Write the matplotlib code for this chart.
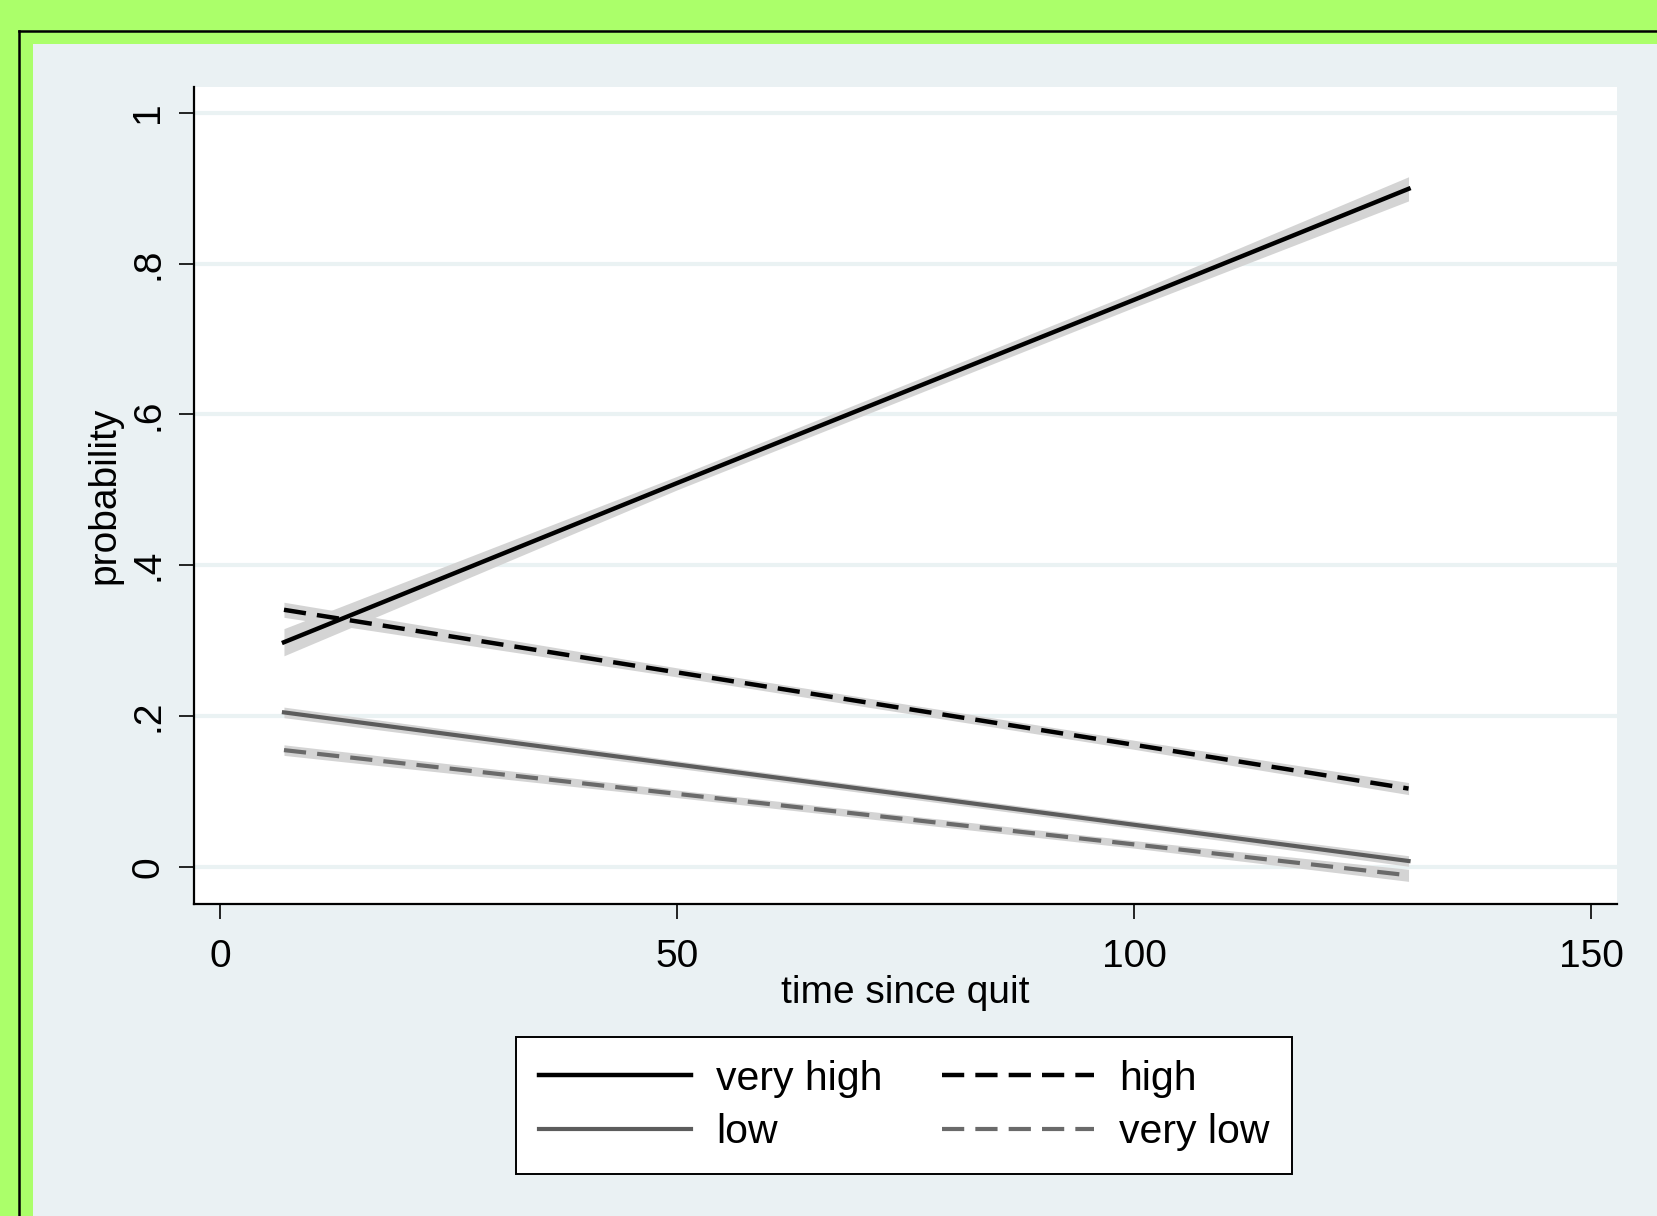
import matplotlib
matplotlib.use("Agg")
import matplotlib.pyplot as plt
from matplotlib.patches import Rectangle
from matplotlib.lines import Line2D

plt.rcParams['font.family'] = ['Liberation Sans', 'DejaVu Sans']

# predicted probabilities by time since quit
time_since_quit = [7, 50, 100, 130]
very_high = [0.298, 0.509, 0.752, 0.899]
high = [0.341, 0.258, 0.162, 0.104]
low = [0.205, 0.136, 0.056, 0.008]
very_low = [0.155, 0.097, 0.030, -0.011]

# half widths of the confidence bands
very_high_ci = [0.018, 0.009, 0.010, 0.016]
high_ci = [0.010, 0.006, 0.006, 0.008]
low_ci = [0.007, 0.005, 0.005, 0.007]
very_low_ci = [0.007, 0.005, 0.005, 0.008]

labels = ["very high", "high", "low", "very low"]
x_ticks = [0, 50, 100, 150]
y_ticks = [0, 0.2, 0.4, 0.6, 0.8, 1.0]
y_tick_labels = ["0", ".2", ".4", ".6", ".8", "1"]

W, H = 1657, 1216
fig = plt.figure(figsize=(W / 100, H / 100), dpi=100, facecolor="#abff6a")

# outer frame: light panel and black border
fig.patches.append(Rectangle((33 / W, 0), 1, 1 - 44 / H, transform=fig.transFigure,
                             facecolor="#eaf1f3", edgecolor="none", zorder=-2))
fig.lines.append(Line2D([19 / W, 1], [1 - 30.5 / H, 1 - 30.5 / H], transform=fig.transFigure,
                        color="black", lw=1.8, zorder=-1))
fig.lines.append(Line2D([19 / W, 19 / W], [0, 1 - 30.5 / H], transform=fig.transFigure,
                        color="black", lw=1.8, zorder=-1))

ax = fig.add_axes([194 / W, 1 - 904 / H, 1423 / W, 817 / H])
ax.set_zorder(1)
ax.set_facecolor("white")
ax.set_xlim(-2.84, 152.8)
ax.set_ylim(-0.049, 1.034)

series = [
    (very_high, very_high_ci, "black", "-", 3.2),
    (high, high_ci, "black", "--", 3.2),
    (low, low_ci, "#5c5c5c", "-", 3.0),
    (very_low, very_low_ci, "#6a6a6a", "--", 3.0),
]

for vals, ci, col, ls, lw in series:
    lo = [v - c for v, c in zip(vals, ci)]
    hi = [v + c for v, c in zip(vals, ci)]
    ax.fill_between(time_since_quit, lo, hi, color="#d4d4d4", lw=0, zorder=2)

handles = []
for (vals, ci, col, ls, lw), lab in zip(series, labels):
    line, = ax.plot(time_since_quit, vals, color=col, lw=lw, ls=ls, label=lab, zorder=3)
    if ls == "--":
        # dash and gap in points, independent of the line width
        line.set_dashes((16.0 / lw, 8.0 / lw))
    handles.append(line)

ax.set_yticks(y_ticks)
ax.set_yticklabels(y_tick_labels, rotation=90, va="center")
ax.set_xticks(x_ticks)
ax.tick_params(axis="both", direction="out", length=11, width=1.2, color="black",
               labelsize=28)
ax.tick_params(axis="x", pad=14)
ax.tick_params(axis="y", pad=9)
ax.grid(axis="y", color="#eaf2f3", lw=3)
ax.set_axisbelow(True)

for side in ["top", "right"]:
    ax.spines[side].set_visible(False)
for side in ["left", "bottom"]:
    ax.spines[side].set_linewidth(1.6)

fig.text(905 / W, 1 - 1003 / H, "time since quit", fontsize=28, ha="center", va="baseline")
fig.text(114 / W, 1 - 495 / H, "probability", fontsize=28, rotation=90,
         rotation_mode="anchor", ha="center", va="baseline")

# legend fills column by column, so reorder to get rows: very high/high, low/very low
order = [0, 2, 1, 3]
leg = fig.legend(handles=[handles[i] for i in order], labels=[labels[i] for i in order],
                 ncol=2, loc="upper center",
                 bbox_to_anchor=(904 / W, 1 - 1037 / H), bbox_transform=fig.transFigure,
                 fontsize=29.5, frameon=True, fancybox=False, framealpha=1,
                 handlelength=3.72, handletextpad=0.6, columnspacing=1.45, borderpad=0.55,
                 labelspacing=0.38, borderaxespad=0)
leg.get_frame().set_edgecolor("black")
leg.get_frame().set_facecolor("white")
leg.get_frame().set_linewidth(1.4)

fig.savefig("out.png", dpi=100, facecolor=fig.get_facecolor())
